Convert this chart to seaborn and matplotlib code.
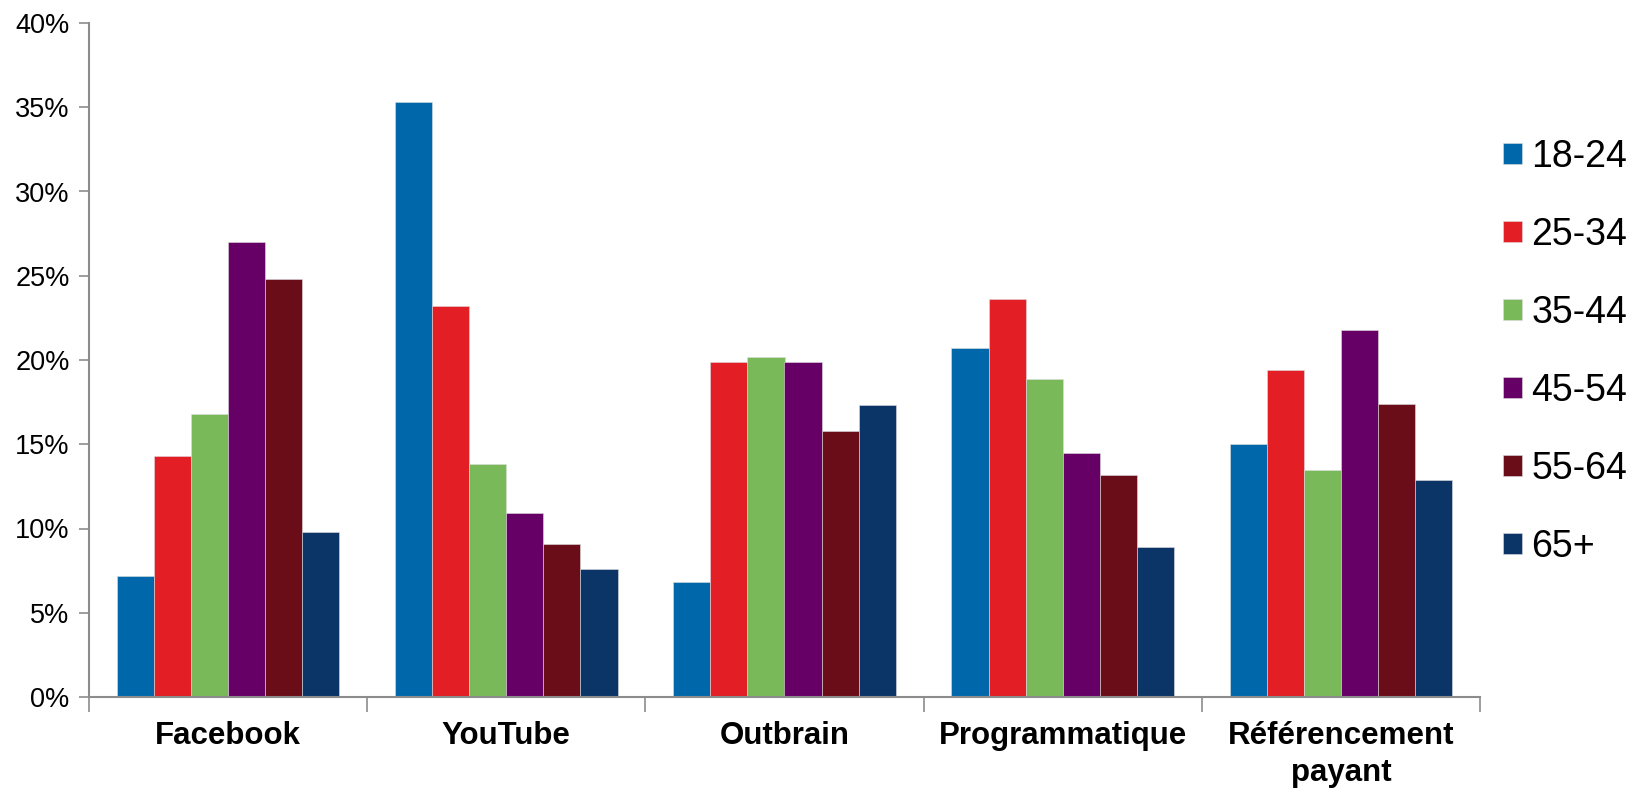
import matplotlib
matplotlib.use('Agg')
import matplotlib.pyplot as plt
import seaborn as sns
import pandas as pd
from matplotlib.ticker import PercentFormatter, FixedLocator

# data (percent)
channels = ['Facebook', 'YouTube', 'Outbrain', 'Programmatique', 'Référencement\npayant']
ages = ['18-24', '25-34', '35-44', '45-54', '55-64', '65+']
v_18_24 = [7.2, 35.3, 6.8, 20.7, 15.0]
v_25_34 = [14.3, 23.2, 19.9, 23.6, 19.4]
v_35_44 = [16.8, 13.8, 20.2, 18.9, 13.5]
v_45_54 = [27.0, 10.9, 19.9, 14.5, 21.8]
v_55_64 = [24.8, 9.1, 15.8, 13.2, 17.4]
v_65 = [9.8, 7.6, 17.3, 8.9, 12.9]
colors = ['#0068AA', '#E31E25', '#7AB95A', '#660066', '#6A0D18', '#0B3566']

series = [v_18_24, v_25_34, v_35_44, v_45_54, v_55_64, v_65]
rows = []
for age, vals in zip(ages, series):
    for ch, v in zip(channels, vals):
        rows.append({'Canal': ch, 'Age': age, 'Part': v})
df = pd.DataFrame(rows)

sns.set_style('white')
plt.rcParams['font.family'] = ['Liberation Sans', 'DejaVu Sans']
plt.rcParams['text.color'] = 'black'
plt.rcParams['xtick.labelcolor'] = 'black'
plt.rcParams['ytick.labelcolor'] = 'black'

fig = plt.figure(figsize=(16.29, 7.89), dpi=100)
ax = fig.add_axes([89 / 1629, 1 - 697 / 789, (1480 - 89) / 1629, (697 - 23) / 789])

sns.barplot(data=df, x='Canal', y='Part', hue='Age', order=channels, hue_order=ages,
            palette=colors, errorbar=None, width=0.8, edgecolor='#dddddd', linewidth=0.4,
            saturation=1, ax=ax)

ax.set_xlim(-0.5, 4.5)
ax.set_ylim(0, 40)
ax.set_yticks(range(0, 41, 5))
ax.yaxis.set_major_formatter(PercentFormatter(decimals=0))
ax.set_xlabel('')
ax.set_ylabel('')

for s in ['top', 'right']:
    ax.spines[s].set_visible(False)
for s in ['left', 'bottom']:
    ax.spines[s].set_color('#8c8c8c')
    ax.spines[s].set_linewidth(1.5)

ax.tick_params(axis='y', which='major', left=True, direction='out', length=7, width=1.2,
               color='#8c8c8c', labelsize=19.5, pad=7)
ax.tick_params(axis='x', which='major', bottom=False, labelsize=22.5, pad=14)
ax.xaxis.set_minor_locator(FixedLocator([-0.5, 0.5, 1.5, 2.5, 3.5, 4.5]))
ax.tick_params(axis='x', which='minor', bottom=True, direction='out', length=11, width=1.2,
               color='#8c8c8c')
for lab in ax.get_xticklabels():
    lab.set_fontweight('bold')
    lab.set_linespacing(1.3)
    lab.set_verticalalignment('top')

handles, labels = ax.get_legend_handles_labels()
ax.legend(handles, labels, loc='center left', bbox_to_anchor=(1503 / 1629, 1 - 352 / 789),
          bbox_transform=fig.transFigure, frameon=False, fontsize=27,
          handlelength=0.5, handleheight=0.5, handletextpad=0.25, labelspacing=1.12,
          borderpad=0, borderaxespad=0)

fig.savefig('out.png', dpi=100)
